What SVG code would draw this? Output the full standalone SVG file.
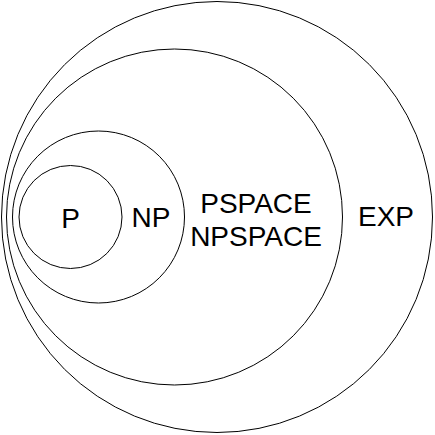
<svg xmlns="http://www.w3.org/2000/svg" width="435" height="435" viewBox="0 0 435 435">
<style>
.c{fill:none;stroke:#000;stroke-width:1}
.t{font-family:"Liberation Sans",Arial,sans-serif;font-size:28px;fill:#000;text-anchor:middle}
</style>
<rect width="435" height="435" fill="#fff"/>
<g id="exp"><circle class="c" cx="217" cy="217" r="215.5"/><text class="t" x="386" y="226">EXP</text></g>
<g id="pspace"><circle class="c" cx="174.5" cy="217" r="168"/><text class="t" x="256" y="213">PSPACE</text><text class="t" x="256" y="246">NPSPACE</text></g>
<g id="np"><circle class="c" cx="98.5" cy="217" r="86"/><text class="t" x="151" y="227">NP</text></g>
<g id="p"><circle class="c" cx="70.5" cy="217" r="51.5"/><text class="t" x="70.5" y="228">P</text></g>
<g id="connectors"/>
</svg>
